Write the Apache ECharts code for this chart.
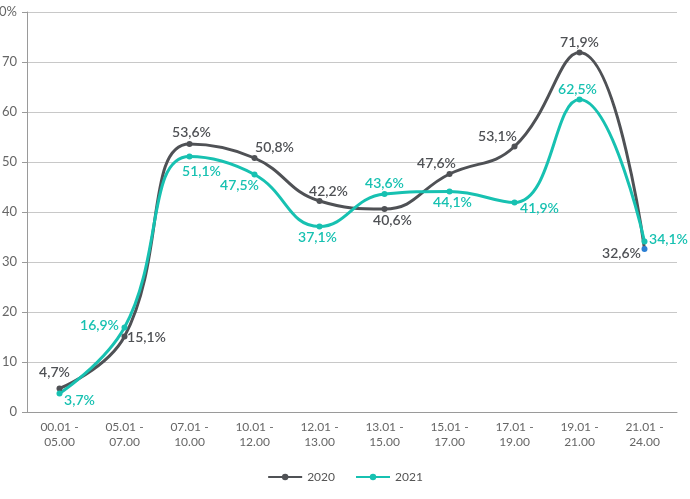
<!DOCTYPE html>
<html>
<head>
<meta charset="utf-8">
<script src="https://cdn.jsdelivr.net/npm/echarts@6/dist/echarts.min.js"></script>
<style>
  html, body { margin: 0; padding: 0; background: #fff; }
  #chart { width: 690px; height: 499px; }
</style>
</head>
<body>
<div id="chart"></div>
<script>
const categories = ['00.01 -\n05.00', '05.01 -\n07.00', '07.01 -\n10.00', '10.01 -\n12.00', '12.01 -\n13.00',
    '13.01 -\n15.00', '15.01 -\n17.00', '17.01 -\n19.00', '19.01 -\n21.00', '21.01 -\n24.00'];
const values2020 = [4.7, 15.1, 53.6, 50.8, 42.2, 40.6, 47.6, 53.1, 71.9, 32.6];
const values2021 = [3.7, 16.9, 51.1, 47.5, 37.1, 43.6, 44.1, 41.9, 62.5, 34.1];

// where each value label sits around its point
const pos2020 = [[-5, -16], [22, 1], [2, -12], [20, -11], [9, -10], [8, 11], [-13, -11], [-17, -10], [0, -10], [-23, 4]];
const pos2021 = [[20, 7], [-25, -2], [12, 15], [-15, 11], [-2, 11], [0, -11], [3, 11], [25, 6], [-2, -10], [24, -2]];

const grey = '#4f5155';
const teal = '#17c1b1';

function fmt(v) {
    return String(v).replace('.', ',') + '%';
}

function points(values, offsets, color) {
    return values.map((v, i) => ({
        value: v,
        label: {
            show: true,
            position: 'inside',
            offset: offsets[i],
            color: color,
            fontSize: 14,
            fontWeight: 600,
            formatter: p => fmt(p.value)
        }
    }));
}

const chart = echarts.init(document.getElementById('chart'));

const data2020 = points(values2020, pos2020, grey);
data2020[9].itemStyle = { color: '#2b7fd4' };

chart.setOption({
    textStyle: { fontFamily: 'Lato, "Noto Sans", sans-serif' },
    animation: false,
    grid: { left: 27, right: 13, top: 12, bottom: 87, outerBoundsMode: 'none' },
    legend: {
        bottom: 11,
        left: 'center',
        itemWidth: 34,
        itemHeight: 8,
        itemGap: 20,
        textStyle: { color: '#555', fontSize: 12 },
        data: ['2020', '2021']
    },
    xAxis: {
        type: 'category',
        data: categories,
        boundaryGap: true,
        axisLine: { lineStyle: { color: '#9a9a9a' } },
        axisTick: { alignWithLabel: true, length: 5, lineStyle: { color: '#9a9a9a' } },
        axisLabel: { color: '#666', fontSize: 12, lineHeight: 15, margin: 8 }
    },
    yAxis: {
        type: 'value',
        min: 0,
        max: 80,
        interval: 10,
        axisLine: { show: true, lineStyle: { color: '#9a9a9a' } },
        axisTick: { show: true, length: 5, lineStyle: { color: '#9a9a9a' } },
        axisLabel: {
            color: '#666',
            fontSize: 13,
            margin: 10,
            formatter: v => v === 80 ? '80%' : String(v)
        },
        splitLine: { lineStyle: { color: '#c8c8c8' } }
    },
    series: [
        {
            name: '2020',
            type: 'line',
            smooth: 0.45,
            symbol: 'circle',
            symbolSize: 6,
            color: grey,
            lineStyle: { width: 3, color: grey },
            data: data2020
        },
        {
            name: '2021',
            type: 'line',
            smooth: 0.45,
            symbol: 'circle',
            symbolSize: 6,
            color: teal,
            lineStyle: { width: 3, color: teal },
            data: points(values2021, pos2021, teal)
        }
    ]
});
</script>
</body>
</html>
